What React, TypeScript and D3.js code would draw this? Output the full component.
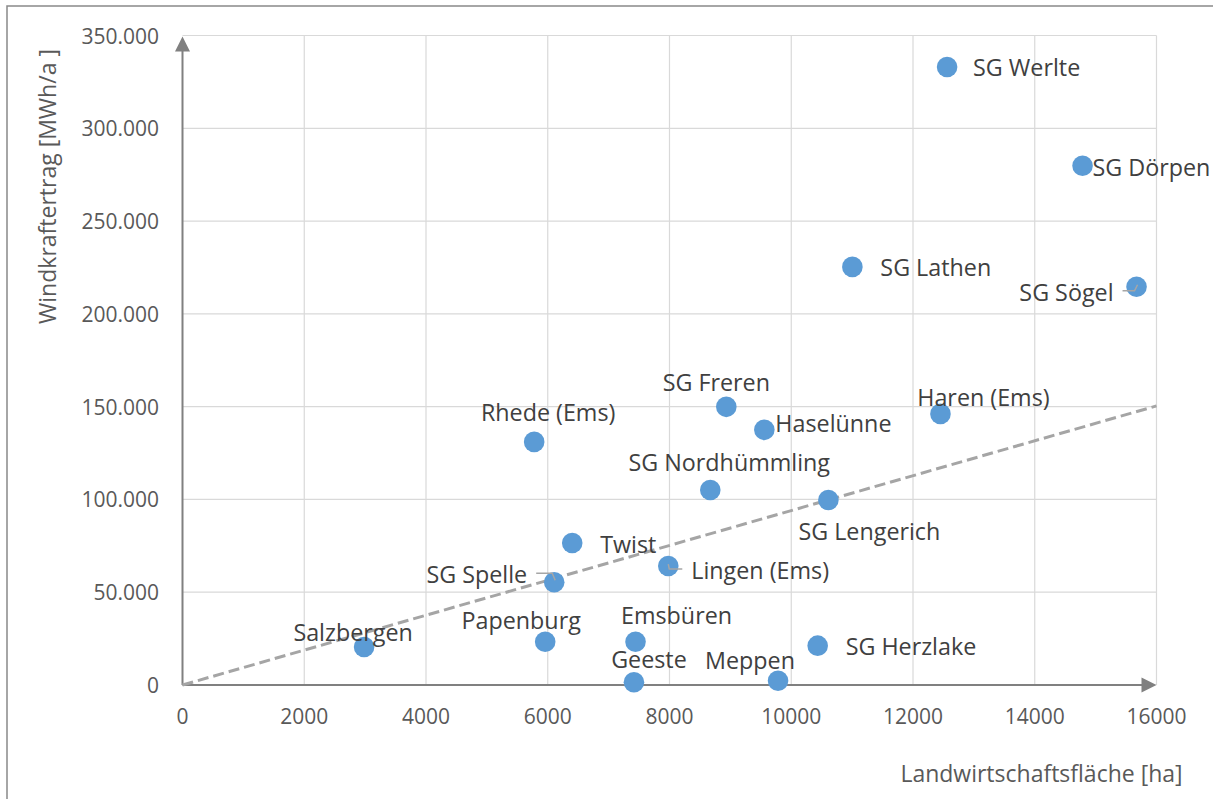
import React from "react";
import * as d3 from "d3";

const names = [
  "SG Werlte", "SG Dörpen", "SG Lathen", "SG Sögel", "SG Freren", "Haren (Ems)",
  "Haselünne", "Rhede (Ems)", "SG Nordhümmling", "SG Lengerich", "Twist",
  "Lingen (Ems)", "SG Spelle", "Salzbergen", "Papenburg", "Emsbüren", "Geeste",
  "Meppen", "SG Herzlake",
];
const flaeche = [
  12560, 14785, 11004, 15672, 8933, 12451, 9558, 5777, 8670, 10610, 6402,
  7980, 6106, 2983, 5958, 7442, 7416, 9783, 10434,
];
const ertrag = [
  333000, 279800, 225300, 214600, 149900, 146100, 137500, 131000, 105100, 99700,
  76500, 64100, 55400, 20500, 23300, 23300, 1450, 2300, 21200,
];
const xTicks = [0, 2000, 4000, 6000, 8000, 10000, 12000, 14000, 16000];
const yTicks = [0, 50000, 100000, 150000, 200000, 250000, 300000, 350000];
const trendX = [0, 16000];
const trendY = [0, 150400];

// label layout: offset from point (px), text anchor, leader line flag
const labelLayout: Record<string, { dx: number; dy: number; anchor: string; leader?: boolean }> = {
  "SG Werlte": { dx: 26, dy: 0, anchor: "start" },
  "SG Dörpen": { dx: 10, dy: 1, anchor: "start" },
  "SG Lathen": { dx: 28, dy: 0, anchor: "start" },
  "SG Sögel": { dx: -23, dy: 5, anchor: "end", leader: true },
  "SG Freren": { dx: -10, dy: -25, anchor: "middle" },
  "Haren (Ems)": { dx: 43, dy: -17, anchor: "middle" },
  "Haselünne": { dx: 11, dy: -7, anchor: "start" },
  "Rhede (Ems)": { dx: 14, dy: -30, anchor: "middle" },
  "SG Nordhümmling": { dx: 19, dy: -28, anchor: "middle" },
  "SG Lengerich": { dx: 41, dy: 31, anchor: "middle" },
  "Twist": { dx: 28, dy: 1, anchor: "start" },
  "Lingen (Ems)": { dx: 23, dy: 4, anchor: "start", leader: true },
  "SG Spelle": { dx: -27, dy: -8, anchor: "end", leader: true },
  "Salzbergen": { dx: -11, dy: -15, anchor: "middle" },
  "Papenburg": { dx: -24, dy: -22, anchor: "middle" },
  "Emsbüren": { dx: 41, dy: -27, anchor: "middle" },
  "Geeste": { dx: 15, dy: -23, anchor: "middle" },
  "Meppen": { dx: -28, dy: -21, anchor: "middle" },
  "SG Herzlake": { dx: 28, dy: 0, anchor: "start" },
};

const W = 1213;
const H = 799;
const x0 = 182.5, x1 = 1156.5, y0 = 685, y1 = 35.5;
const FONT = "'Open Sans', 'Noto Sans', sans-serif";

export default function App() {
  const x = d3.scaleLinear().domain([0, 16000]).range([x0, x1]);
  const y = d3.scaleLinear().domain([0, 350000]).range([y0, y1]);
  const trend = d3
    .line<number>()
    .x((_, i) => x(trendX[i]))
    .y((_, i) => y(trendY[i]))(trendX);

  const fmtY = (v: number) => (v === 0 ? "0" : d3.format(",")(v).replace(/,/g, "."));

  return (
    <svg
      width={W}
      height={H}
      style={{ position: "absolute", left: 0, top: 0, background: "#fff" }}
      fontFamily={FONT}
    >
      <rect x={0} y={0} width={W} height={H} fill="#fff" />
      {/* outer border */}
      <rect x={7} y={6} width={W + 20} height={H + 20} fill="none" stroke="#898989" strokeWidth={1.5} />

      {/* gridlines */}
      {xTicks.filter((t) => t > 0).map((t) => (
        <line key={"gx" + t} x1={x(t)} x2={x(t)} y1={y(0)} y2={y(350000)} stroke="#d9d9d9" strokeWidth={1.2} />
      ))}
      {yTicks.filter((t) => t > 0).map((t) => (
        <line key={"gy" + t} x1={x(0)} x2={x(16000)} y1={y(t)} y2={y(t)} stroke="#d9d9d9" strokeWidth={1.2} />
      ))}

      {/* axes */}
      <line x1={x(0)} x2={x(16000) - 14} y1={y(0)} y2={y(0)} stroke="#808080" strokeWidth={2} />
      <path
        d={`M${x(16000)},${y(0)} L${x(16000) - 15},${y(0) - 7.5} L${x(16000) - 15},${y(0) + 7.5} Z`}
        fill="#808080"
      />
      <line x1={x(0)} x2={x(0)} y1={y(0)} y2={y(350000) + 14} stroke="#808080" strokeWidth={2} />
      <path
        d={`M${x(0)},${y(350000) + 1} L${x(0) - 7.5},${y(350000) + 16} L${x(0) + 7.5},${y(350000) + 16} Z`}
        fill="#808080"
      />

      {/* tick labels */}
      {xTicks.map((t) => (
        <text key={"tx" + t} x={x(t)} y={716} textAnchor="middle" dominantBaseline="central" fontSize={21} fill="#595959">
          {String(t)}
        </text>
      ))}
      {yTicks.map((t) => (
        <text key={"ty" + t} x={159} y={y(t)} textAnchor="end" dominantBaseline="central" fontSize={21} fill="#595959">
          {fmtY(t)}
        </text>
      ))}

      {/* axis titles */}
      <text
        transform={`translate(47,186.5) rotate(-90)`}
        textAnchor="middle"
        dominantBaseline="central"
        fontSize={23}
        fill="#595959"
      >
        Windkraftertrag [MWh/a ]
      </text>
      <text x={1041.5} y={773} textAnchor="middle" dominantBaseline="central" fontSize={23} fill="#595959">
        Landwirtschaftsfläche [ha]
      </text>

      {/* trend line */}
      <path d={trend || ""} fill="none" stroke="#a5a5a5" strokeWidth={3} strokeDasharray="11,5" />

      {/* points */}
      {names.map((n, i) => (
        <circle key={"p" + n} cx={x(flaeche[i])} cy={y(ertrag[i])} r={10.3} fill="#5b9bd5" />
      ))}

      {/* leader lines */}
      {names.map((n, i) => {
        const L = labelLayout[n];
        if (!L.leader) return null;
        const px = x(flaeche[i]);
        const py = y(ertrag[i]);
        const ly = py + L.dy - 1;
        if (L.anchor === "end") {
          const sx = px + L.dx + 9;
          return (
            <path key={"l" + n} d={`M${sx},${ly} L${px - 2},${ly} L${px + 1},${py - 2}`} fill="none" stroke="#a6a6a6" strokeWidth={1.5} />
          );
        }
        const sx = px + L.dx - 9;
        return (
          <path key={"l" + n} d={`M${px},${py - 2} L${px + 1},${ly} L${sx},${ly}`} fill="none" stroke="#a6a6a6" strokeWidth={1.5} />
        );
      })}

      {/* labels */}
      {names.map((n, i) => {
        const L = labelLayout[n];
        return (
          <text
            key={"t" + n}
            x={x(flaeche[i]) + L.dx}
            y={y(ertrag[i]) + L.dy}
            textAnchor={L.anchor as any}
            dominantBaseline="central"
            fontSize={23.3}
            fill="#404040"
          >
            {n}
          </text>
        );
      })}
    </svg>
  );
}
